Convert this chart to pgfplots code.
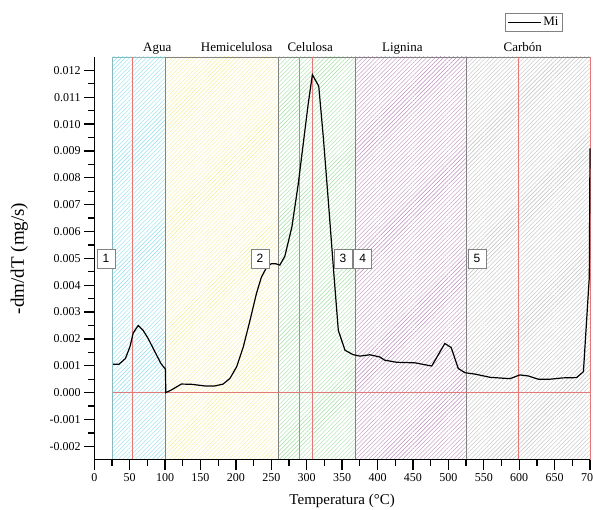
\documentclass[border=0pt]{standalone}
\usepackage{pgfplots}
\pgfplotsset{compat=1.18}
\usepackage{fontspec}
\setmainfont{Liberation Serif}
\newfontfamily\sansf{Liberation Sans}
\usetikzlibrary{patterns.meta}
\definecolor{cAgua}{RGB}{140,222,232}
\definecolor{cHemi}{RGB}{242,238,150}
\definecolor{cCelu}{RGB}{160,222,160}
\definecolor{cLign}{RGB}{185,140,185}
\definecolor{cCarb}{RGB}{190,190,190}
\definecolor{redl}{RGB}{228,120,120}
\definecolor{bordg}{RGB}{130,130,130}

\begin{document}
\begin{tikzpicture}
\begin{axis}[
  scale only axis, width=496pt, height=403pt,
  xmin=0, xmax=700, ymin=-0.0025, ymax=0.0125,
  clip=false,
  axis line style={draw=none},
  xtick pos=bottom, ytick pos=left,
  tick align=outside, major tick length=10pt, minor tick length=6pt,
  every tick/.style={black, line width=1.3pt},
  xtick={0,50,100,150,200,250,300,350,400,450,500,550,600,650,700},
  ytick={-0.002,-0.001,0,0.001,0.002,0.003,0.004,0.005,0.006,0.007,0.008,0.009,0.010,0.011,0.012},
  minor x tick num=1, minor y tick num=1,
  scaled y ticks=false,
  yticklabel style={/pgf/number format/.cd, fixed, fixed zerofill, precision=3},
  /pgf/number format/assume math mode=true,
  tick label style={font=\fontsize{12}{14}\selectfont},
  xlabel={Temperatura (°C)},
  ylabel={-dm/dT (mg/s)},
  xlabel style={at={(axis description cs:0.5,-0.1017)}, anchor=center, font=\fontsize{15}{17}\selectfont},
  ylabel style={at={(axis description cs:-0.151,0.5)}, anchor=center, rotate=0, font=\fontsize{19}{21}\selectfont},
  legend style={at={(axis description cs:0.945,1.109)}, anchor=north east, draw=bordg,
    font=\fontsize{13}{15}\selectfont, inner sep=2pt, row sep=0pt},
  legend image code/.code={\draw[#1] (0pt,0pt) -- (33pt,0pt);},
]
% regions
\addplot[forget plot, draw=cAgua!60!bordg, line width=0.6pt, preaction={fill=white},
  pattern={Lines[angle=45,distance=3pt,line width=0.4pt]}, pattern color=cAgua]
  coordinates {(26,-0.0025) (26,0.0125) (100,0.0125) (100,-0.0025)};
\addplot[forget plot, draw=bordg, line width=0.6pt, preaction={fill=white},
  pattern={Lines[angle=45,distance=3pt,line width=0.4pt]}, pattern color=cHemi]
  coordinates {(100,-0.0025) (100,0.0125) (260,0.0125) (260,-0.0025)};
\addplot[forget plot, draw=bordg, line width=0.6pt, preaction={fill=white},
  pattern={Lines[angle=45,distance=3pt,line width=0.4pt]}, pattern color=cCelu]
  coordinates {(260,-0.0025) (260,0.0125) (368,0.0125) (368,-0.0025)};
\addplot[forget plot, draw=bordg, line width=0.6pt, preaction={fill=white},
  pattern={Lines[angle=45,distance=3pt,line width=0.4pt]}, pattern color=cLign]
  coordinates {(368,-0.0025) (368,0.0125) (526,0.0125) (526,-0.0025)};
\addplot[forget plot, draw=bordg, line width=0.6pt, preaction={fill=white},
  pattern={Lines[angle=45,distance=3pt,line width=0.4pt]}, pattern color=cCarb]
  coordinates {(526,-0.0025) (526,0.0125) (700,0.0125) (700,-0.0025)};
% red reference lines
\addplot[forget plot, redl, line width=0.5pt] coordinates {(54,-0.0025) (54,0.0125)};
\addplot[forget plot, redl, line width=0.5pt] coordinates {(290,-0.0025) (290,0.0125)};
\addplot[forget plot, redl, line width=0.5pt] coordinates {(308,-0.0025) (308,0.0125)};
\addplot[forget plot, redl, line width=0.5pt] coordinates {(598,-0.0025) (598,0.0125)};
\addplot[forget plot, redl, line width=0.7pt] coordinates {(700,-0.0025) (700,0.0125)};
\addplot[forget plot, redl, line width=0.7pt] coordinates {(26,0) (700,0)};
% curve
\addplot[black, line width=1.2pt] coordinates {
(26.8,0.00106) (35,0.00106) (44,0.00127) (50.4,0.00171) (55,0.00222) (62,0.00250)
(69,0.00232) (76,0.00202) (85.7,0.00152) (94,0.00109) (100.5,0.00087) (101,0.00000)
(109,0.00010) (123,0.00032) (137.5,0.00031) (156,0.00025) (170.5,0.00025) (182,0.00032)
(191.6,0.00053) (201,0.00096) (210.5,0.00171) (220,0.00270) (229,0.00369) (236,0.00430)
(243.5,0.00467) (250,0.00480) (256,0.00480) (262,0.00475) (269,0.00507) (279,0.00616)
(288,0.00776) (295,0.00925) (302,0.01073) (308,0.01184) (317,0.01141) (323.5,0.00949)
(330.5,0.00714) (337.6,0.00467) (344.6,0.00232) (354,0.00158) (365,0.00142) (375,0.00136)
(389,0.00141) (403,0.00133) (410,0.00121) (427,0.00113) (453,0.00111) (476.5,0.00099)
(495,0.00183) (504,0.00168) (514,0.00090) (523.6,0.00074) (537.7,0.00069) (559,0.00057)
(587,0.00052) (601,0.00066) (613,0.00062) (627,0.00050) (643.6,0.00050) (662,0.00055)
(681,0.00056) (690.7,0.00078) (699,0.00430) (700,0.00910)
};
\addlegendentry{Mi}
% axis lines (left and bottom only)
\draw[black, line width=1.3pt] (axis cs:0,0.0125) -- (axis cs:0,-0.0025) -- (axis cs:700,-0.0025);
% region titles
\node[anchor=base, yshift=5pt, font=\fontsize{13}{15}\selectfont] at (axis cs:89,0.0125) {Agua};
\node[anchor=base, yshift=5pt, font=\fontsize{13}{15}\selectfont] at (axis cs:201,0.0125) {Hemicelulosa};
\node[anchor=base, yshift=5pt, font=\fontsize{13}{15}\selectfont] at (axis cs:305,0.0125) {Celulosa};
\node[anchor=base, yshift=5pt, font=\fontsize{13}{15}\selectfont] at (axis cs:435,0.0125) {Lignina};
\node[anchor=base, yshift=5pt, font=\fontsize{13}{15}\selectfont] at (axis cs:605,0.0125) {Carbón};
% numbered boxes
\tikzset{numbox/.style={draw=bordg, fill=white, line width=0.6pt, inner sep=0pt,
  minimum width=18pt, minimum height=19pt, font=\sansf\fontsize{12}{14}\selectfont}}
\node[numbox] at (axis cs:16.6,0.005) {1};
\node[numbox] at (axis cs:234,0.005) {2};
\node[numbox] at (axis cs:351,0.005) {3};
\node[numbox] at (axis cs:379,0.005) {4};
\node[numbox] at (axis cs:540.5,0.005) {5};
\coordinate (BL) at (axis cs:0,-0.0025);
\coordinate (TR) at (axis cs:700,0.0125);
\end{axis}
\pgfresetboundingbox
\path[use as bounding box] ([xshift=-94.3pt,yshift=-50pt]BL) rectangle ([xshift=3pt,yshift=57pt]TR);
\end{tikzpicture}
\end{document}
